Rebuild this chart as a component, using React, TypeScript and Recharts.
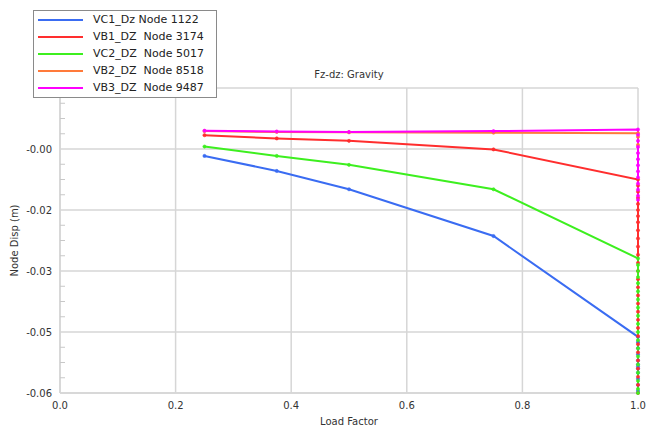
import React from "react";
import {
  LineChart,
  Line,
  XAxis,
  YAxis,
  CartesianGrid,
  Legend,
} from "recharts";

// Load factor steps (x)
const loadFactor = [0.25, 0.375, 0.5, 0.75, 1.0];

// Node displacement (m) at each load step
const vc1Values = [-0.0017, -0.0054, -0.0099, -0.0214, -0.0462];
const vb1Values = [0.0034, 0.0026, 0.002, -0.0001, -0.0075];
const vc2Values = [0.0006, -0.0017, -0.0039, -0.0099, -0.0269];
const vb2Values = [0.0044, 0.0042, 0.0041, 0.004, 0.0039];
const vb3Values = [0.0045, 0.0043, 0.0042, 0.0044, 0.0048];

// Further iterations at load factor 1.0
const vc1Tail = [-0.0475, -0.049, -0.0505, -0.052, -0.053, -0.0535, -0.054, -0.055, -0.0565, -0.058, -0.0595];
const vb1Tail = [-0.009, -0.0105, -0.012, -0.0135, -0.015, -0.0165, -0.018, -0.02, -0.022, -0.024, -0.026, -0.028, -0.03, -0.032, -0.034, -0.036, -0.038, -0.04, -0.042, -0.044, -0.046, -0.048, -0.05, -0.052, -0.054, -0.056, -0.058, -0.06];
const vc2Tail = [-0.0285, -0.03, -0.0315, -0.033, -0.035, -0.037, -0.039, -0.041, -0.043, -0.045, -0.047, -0.049, -0.051, -0.053, -0.055, -0.057, -0.059, -0.06];
const vb2Tail = [0.003, 0.001];
const vb3Tail = [0.0035, 0.002, 0.0005, -0.001, -0.0025, -0.004, -0.0055, -0.007, -0.0085, -0.01, -0.0115, -0.0125];

const seriesNames = [
  "VC1_Dz Node 1122",
  "VB1_DZ  Node 3174",
  "VC2_DZ  Node 5017",
  "VB2_DZ  Node 8518",
  "VB3_DZ  Node 9487",
];
const seriesColors = ["#3a6cf2", "#ff2e2e", "#3def1f", "#ff7a3a", "#ff00ff"];

// Axis ticks
const xTicks = [0, 0.2, 0.4, 0.6, 0.8, 1.0];
const xTickLabels = ["0.0", "0.2", "0.4", "0.6", "0.8", "1.0"];
const yMajorTicks = [0.015, 0, -0.015, -0.03, -0.045, -0.06];
const yMajorLabels = ["", "-0.00", "-0.02", "-0.03", "-0.05", "-0.06"];
const yMinorTicks = [
  0.01125, 0.0075, 0.00375, -0.00375, -0.0075, -0.01125, -0.01875, -0.0225,
  -0.02625, -0.03375, -0.0375, -0.04125, -0.04875, -0.0525, -0.05625,
];

const build = (vals: number[], tail: number[]) => [
  ...loadFactor.map((x, i) => ({ x, y: vals[i] })),
  ...tail.map((y) => ({ x: 1.0, y })),
];

const seriesData = [
  build(vc1Values, vc1Tail),
  build(vb1Values, vb1Tail),
  build(vc2Values, vc2Tail),
  build(vb2Values, vb2Tail),
  build(vb3Values, vb3Tail),
];

const FONT = "'DejaVu Sans', Verdana, sans-serif";
const TEXT = "#333";
const GRID = "#d6d6d6";

const YTick = (props: any) => {
  const { x, y, payload } = props;
  const i = yMajorTicks.indexOf(payload.value);
  if (i >= 0) {
    return (
      <text x={x - 8} y={y} dy={4} textAnchor="end" fontSize={10} fill={TEXT} fontFamily={FONT}>
        {yMajorLabels[i]}
      </text>
    );
  }
  return <line x1={x} x2={x + 5} y1={y} y2={y} stroke="#c8c8c8" strokeWidth={1} />;
};

const XTick = (props: any) => {
  const { x, y, payload } = props;
  const i = xTicks.indexOf(payload.value);
  return (
    <text x={x} y={y} dy={16} textAnchor="middle" fontSize={10} fill={TEXT} fontFamily={FONT}>
      {i >= 0 ? xTickLabels[i] : ""}
    </text>
  );
};

const LegendBox = () => (
  <div
    style={{
      width: 184,
      height: 88,
      boxSizing: "border-box",
      border: "1px solid #8a8a8a",
      background: "#fff",
      fontFamily: FONT,
      fontSize: 11,
      color: "#222",
    }}
  >
    {seriesNames.map((n, i) => (
      <div key={n} style={{ position: "relative", height: 17.2 }}>
        <div
          style={{
            position: "absolute",
            left: 4,
            top: 7.6,
            width: 45,
            height: 2,
            background: seriesColors[i],
          }}
        />
        <div style={{ position: "absolute", left: 59, top: 1.5, whiteSpace: "pre", lineHeight: "14px" }}>{n}</div>
      </div>
    ))}
  </div>
);

export default function App() {
  return (
    <div style={{ position: "relative", width: 646, height: 429, fontFamily: FONT, overflow: "hidden" }}>
      <style>{"html,body{margin:0;padding:0;overflow:hidden} #root{width:646px;height:429px}"}</style>
      <div style={{ position: "absolute", left: 8, top: 8, width: 638, height: 421 }}>
        <LineChart
          width={638}
          height={421}
          margin={{ top: 80, right: 8, left: 0, bottom: 2 }}
        >
          <CartesianGrid
            stroke={GRID}
            strokeWidth={1.5}
            horizontalValues={yMajorTicks}
            verticalValues={xTicks}
          />
          <XAxis
            type="number"
            dataKey="x"
            domain={[0, 1]}
            ticks={xTicks}
            tick={<XTick />}
            tickLine={false}
            tickSize={0}
            tickMargin={0}
            interval={0}
            axisLine={{ stroke: GRID, strokeWidth: 1.5 }}
            height={34}
            label={{
              value: "Load Factor",
              position: "insideBottom",
              offset: 2,
              fontSize: 10,
              fill: TEXT,
              fontFamily: FONT,
            }}
          />
          <YAxis
            type="number"
            dataKey="y"
            domain={[-0.06, 0.015]}
            ticks={[...yMajorTicks, ...yMinorTicks]}
            tick={<YTick />}
            tickLine={false}
            tickSize={0}
            tickMargin={0}
            interval={0}
            axisLine={{ stroke: GRID, strokeWidth: 1.5 }}
            width={52}
            label={{
              value: "Node Disp  (m)",
              angle: -90,
              position: "insideLeft",
              offset: 6,
              fontSize: 10,
              fill: TEXT,
              fontFamily: FONT,
              style: { textAnchor: "middle", whiteSpace: "pre" },
            }}
          />
          {seriesData.map((d, i) => (
            <Line
              key={seriesNames[i]}
              data={d}
              dataKey="y"
              name={seriesNames[i]}
              type="linear"
              stroke={seriesColors[i]}
              strokeWidth={2}
              dot={{ r: 1.6, fill: seriesColors[i], stroke: seriesColors[i], strokeWidth: 0.6 }}
              isAnimationActive={false}
            />
          ))}
          <Legend
            layout="vertical"
            align="center"
            verticalAlign="middle"
            content={() => <LegendBox />}
            wrapperStyle={{ left: 25, top: 2, width: 184, height: 88 }}
          />
        </LineChart>
        <div
          style={{
            position: "absolute",
            left: 52,
            width: 578,
            top: 61,
            textAlign: "center",
            fontSize: 10,
            color: TEXT,
            fontFamily: FONT,
            lineHeight: "12px",
          }}
        >
          Fz-dz: Gravity
        </div>
      </div>
    </div>
  );
}
